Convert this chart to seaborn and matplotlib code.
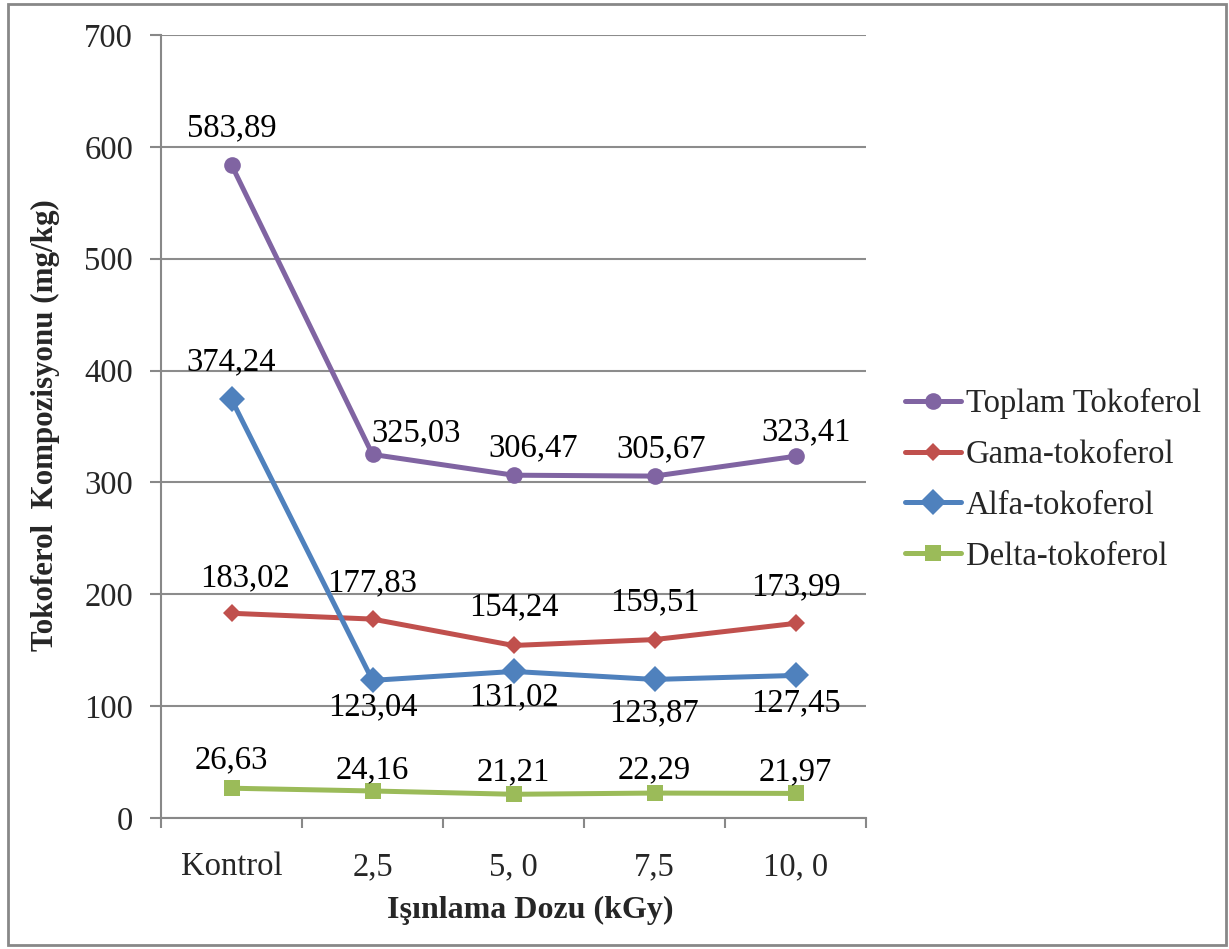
import matplotlib
matplotlib.use("Agg")
import matplotlib.pyplot as plt
import seaborn as sns
import numpy as np
import pandas as pd
from matplotlib.patches import Rectangle
from matplotlib.ticker import FixedLocator

categories = ["Kontrol", "2,5", "5, 0", "7,5", "10, 0"]
series_names = ["Toplam Tokoferol", "Gama-tokoferol", "Alfa-tokoferol", "Delta-tokoferol"]
toplam = [583.89, 325.03, 306.47, 305.67, 323.41]
gama = [183.02, 177.83, 154.24, 159.51, 173.99]
alfa = [374.24, 123.04, 131.02, 123.87, 127.45]
delta = [26.63, 24.16, 21.21, 22.29, 21.97]
y_ticks = [0, 100, 200, 300, 400, 500, 600, 700]

sns.set_theme(style="white")
plt.rcParams['font.family'] = ['Liberation Serif', 'DejaVu Serif']

fig = plt.figure(figsize=(12.29, 9.49), dpi=100)
ax = fig.add_axes([161/1229, 1-818/949, (866-161)/1229, (818-35)/949])

colors = ["#8064A2", "#C0504D", "#4F81BD", "#9BBB59"]
markers = ["o", "D", "D", "s"]
msizes = [12, 9, 13, 12]
data_all = [toplam, gama, alfa, delta]

# label offsets in pixels (dx, dy)
offsets = [
    [(0, 37), (44, 21), (20, 27), (7, 27), (11, 24)],
    [(13, 35), (0, 36), (0, 38), (0, 38), (0, 36)],
    [(0, 37), (0, -27), (0, -26), (0, -34), (0, -28)],
    [(0, 28), (0, 21), (0, 22), (0, 23), (0, 21)],
]

x = np.arange(len(categories))
for name, vals, c, m, ms in zip(series_names, data_all, colors, markers, msizes):
    df = pd.DataFrame({"x": x, "y": vals})
    sns.lineplot(data=df, x="x", y="y", ax=ax, color=c, linewidth=3.6,
                 marker=m, markersize=ms, markeredgecolor=c, markeredgewidth=0,
                 label=name, legend=False)

for vals, offs in zip(data_all, offsets):
    for xi, v, (dx, dy) in zip(x, vals, offs):
        s = f"{v:.2f}".replace(".", ",")
        ax.annotate(s, (xi, v), xytext=(dx, dy), textcoords="offset pixels",
                    ha="center", va="center", fontsize=23.5, color="black")

ax.set_xlim(-0.5, len(categories) - 0.5)
ax.set_ylim(0, 700)
ax.set_yticks(y_ticks)
ax.set_yticklabels([str(t) for t in y_ticks])
ax.set_xticks(x)
ax.set_xticklabels(categories)
ax.xaxis.set_minor_locator(FixedLocator(np.arange(-0.5, len(categories), 1.0)))
ax.tick_params(axis="x", which="major", length=0, pad=24, labelsize=23.5)
ax.tick_params(axis="x", which="minor", length=7, width=1.5, color="#888888", direction="out", bottom=True)
ax.tick_params(axis="y", which="major", length=8, width=1.5, color="#888888", direction="out", pad=12, labelsize=23.5, left=True)

ax.grid(axis="y", color="#8c8c8c", linewidth=1.5)
ax.grid(axis="x", visible=False)
ax.set_axisbelow(True)
for s in ["top", "right"]:
    ax.spines[s].set_visible(False)
for s in ["left", "bottom"]:
    ax.spines[s].set_color("#888888")
    ax.spines[s].set_linewidth(1.5)

ax.set_xlabel("")
ax.set_ylabel("")
fig.text(530/1229, 1-910/949, "Işınlama Dozu (kGy)", ha="center", va="center",
         fontsize=23, fontweight="bold")
fig.text(45/1229, 1-425/949, "Tokoferol  Kompozisyonu (mg/kg)", ha="center", va="center",
         rotation=90, fontsize=22.3, fontweight="bold")

handles, labels = ax.get_legend_handles_labels()
leg = fig.legend(handles, labels, loc="center left", bbox_to_anchor=(889/1229, 1-480/949),
                 frameon=False, fontsize=23.5, handlelength=1.7, handletextpad=0.15,
                 labelspacing=0.62, borderpad=0)

fig.add_artist(Rectangle((8/1229, 4/949), (1226-8)/1229, (945-4)/949, transform=fig.transFigure,
                         fill=False, edgecolor="#888888", linewidth=2))

fig.savefig("out.png", dpi=100)
